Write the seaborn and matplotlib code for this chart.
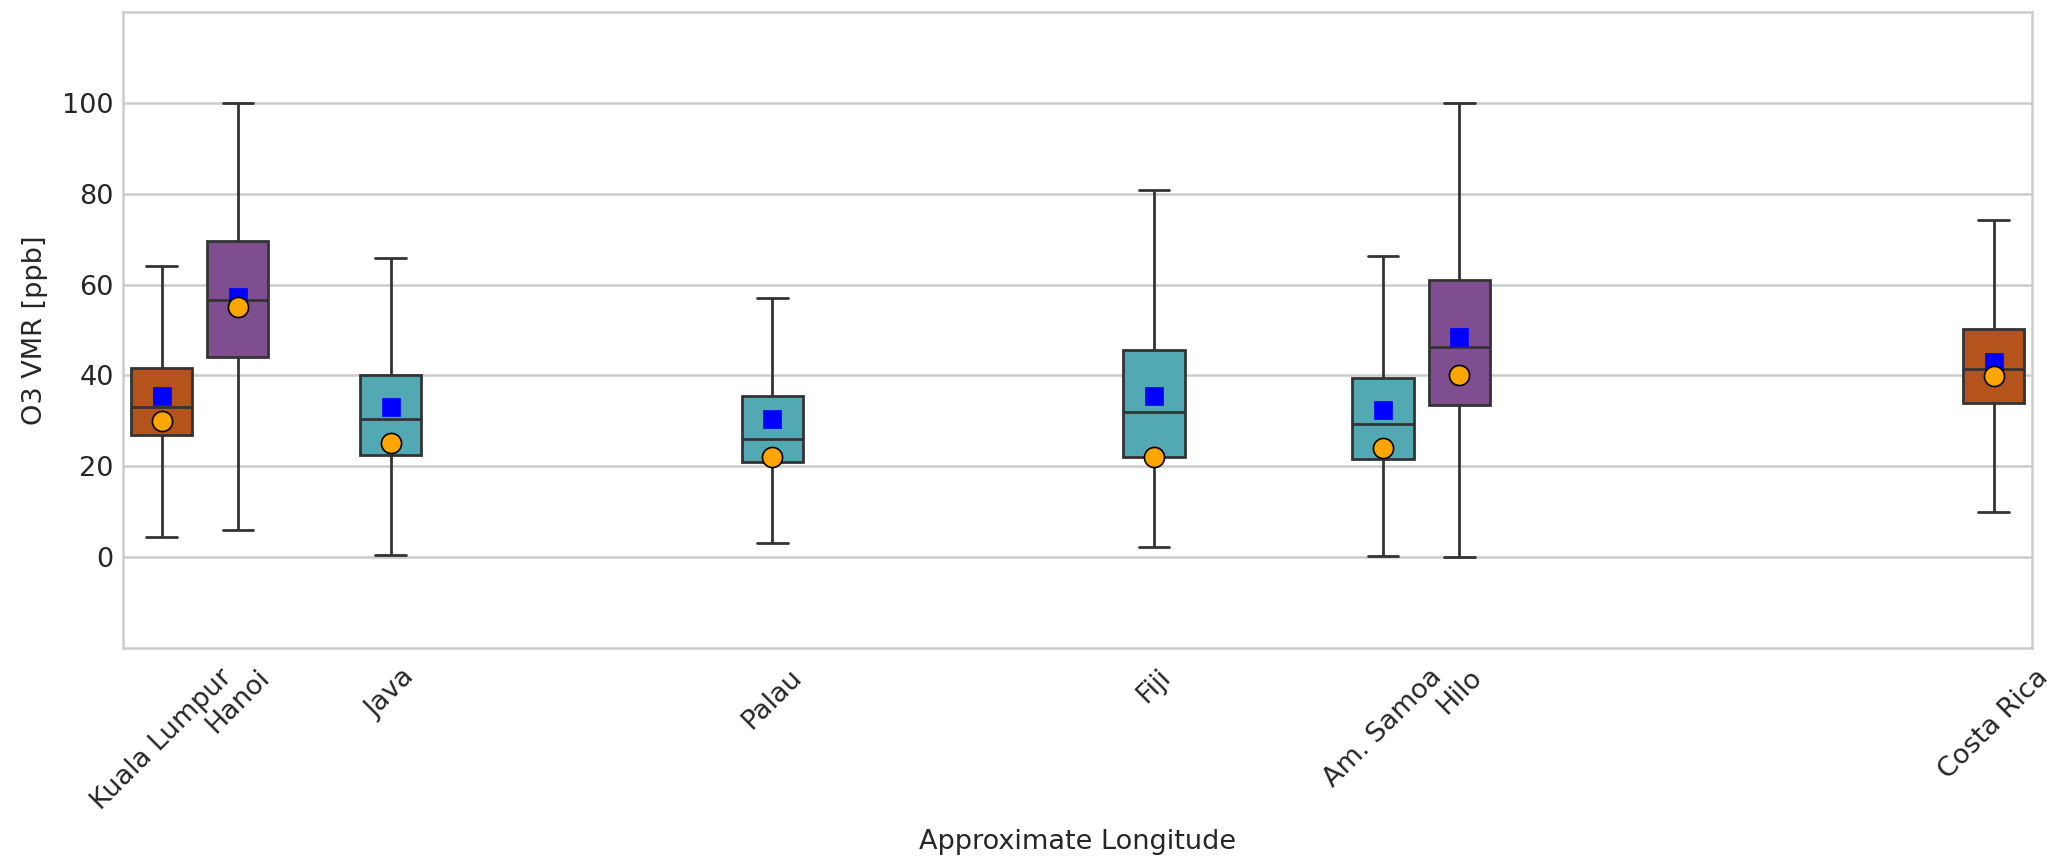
import pandas as pd
import matplotlib
matplotlib.use("Agg")
import matplotlib.pyplot as plt
import seaborn as sns

# Sites, approximate longitude used for placement, and colour group
sites = ['Kuala Lumpur', 'Hanoi', 'Java', 'Palau', 'Fiji', 'Am. Samoa', 'Hilo', 'Costa Rica']
longitude = [102, 106, 114, 134, 154, 166, 170, 198]
group = ['g1', 'g2', 'g3', 'g3', 'g3', 'g3', 'g2', 'g1']

# Box statistics (ppb)
o3_min = [4.5, 5.9, 0.5, 3.1, 2.2, 0.3, 0.0, 9.9]
o3_q1 = [26.8, 44.1, 22.6, 21.0, 22.0, 21.7, 33.4, 34.0]
o3_med = [33.1, 56.7, 30.4, 26.1, 32.0, 29.3, 46.3, 41.4]
o3_q3 = [41.6, 69.6, 40.0, 35.5, 45.6, 39.4, 61.0, 50.2]
o3_max = [64.0, 100.0, 65.9, 57.0, 80.9, 66.2, 100.0, 74.2]

# Extra markers
o3_mean = [35.5, 57.3, 33.0, 30.5, 35.5, 32.4, 48.4, 43.0]
o3_point = [30.0, 55.0, 25.1, 22.0, 22.0, 24.0, 40.0, 39.9]

group_colors = {'g1': '#B5531C', 'g2': '#7F4E91', 'g3': '#52A9B4'}

# five values per site -> quartiles come out exactly as read
rows = []
for i, s in enumerate(sites):
    for v in [o3_min[i], o3_q1[i], o3_med[i], o3_q3[i], o3_max[i]]:
        rows.append({'site': s, 'lon': longitude[i], 'group': group[i], 'o3': v})
df = pd.DataFrame(rows)
marks = pd.DataFrame({'lon': longitude, 'mean': o3_mean, 'point': o3_point})

sns.set_style("whitegrid")
plt.rcParams['font.family'] = ['DejaVu Sans']

fig, ax = plt.subplots(figsize=(20.67, 8.68), dpi=100)
fig.subplots_adjust(left=0.0597, right=0.983, top=0.9864, bottom=0.2532)

sns.boxplot(
    data=df, x='lon', y='o3', hue='group', palette=group_colors,
    native_scale=True, whis=(0, 100), saturation=1, width=0.8,
    linecolor='#333333', linewidth=2, legend=False, ax=ax,
    showfliers=False,
)

sns.scatterplot(data=marks, x='lon', y='mean', marker='s', color='#0000FF',
                s=150, edgecolor='#0000FF', linewidth=0.5, zorder=5, ax=ax)
sns.scatterplot(data=marks, x='lon', y='point', marker='o', color='#FFA500',
                s=210, edgecolor='black', linewidth=1.2, zorder=6, ax=ax)

fs = 19.5
ax.set_xlim(100, 200)
ax.set_ylim(-20, 120)
ax.set_yticks([0, 20, 40, 60, 80, 100])
ax.set_xticks(longitude)
ax.set_xticklabels(sites, rotation=45, fontsize=fs)
ax.tick_params(axis='y', labelsize=fs)
ax.tick_params(axis='x', pad=8)
ax.xaxis.grid(False)
ax.yaxis.grid(True, color='#cccccc', linewidth=1.8)
for sp in ax.spines.values():
    sp.set_color('#cccccc')
    sp.set_linewidth(1.8)

ax.set_xlabel("Approximate Longitude", fontsize=fs, labelpad=10)
ax.set_ylabel("O3 VMR [ppb]", fontsize=fs, labelpad=10)

fig.savefig("out.png", dpi=100)
